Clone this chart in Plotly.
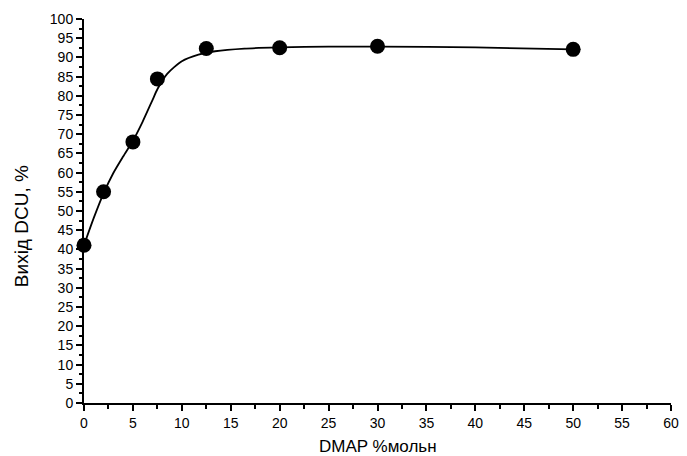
import plotly.graph_objects as go

# Measured points
dmap = [0, 2, 5, 7.5, 12.5, 20, 30, 50]
yield_dcu = [41.1, 55.0, 68.0, 84.4, 92.3, 92.5, 92.9, 92.1]

# Fitted curve
curve_x = [0, 1, 2, 3, 4, 5, 6, 7, 7.5, 8.5, 10, 11.7, 13.4, 16.4, 20, 25, 30, 40, 50]
curve_y = [41.1, 48.2, 54.6, 59.9, 64.2, 68.3, 73.3, 78.9, 81.7, 85.7, 89.0, 90.7, 91.6, 92.3, 92.6, 92.8, 92.8, 92.6, 92.1]

x_title = "DMAP %мольн"
y_title = "Вихід DCU, %"

fig = go.Figure()
fig.add_trace(go.Scatter(x=curve_x, y=curve_y, mode="lines",
                         line=dict(color="black", width=1.8, shape="spline", smoothing=0.7),
                         hoverinfo="skip", showlegend=False))
fig.add_trace(go.Scatter(x=dmap, y=yield_dcu, mode="markers",
                         marker=dict(color="black", size=15, symbol="circle"),
                         showlegend=False, cliponaxis=False))

font = "Liberation Sans, Arial, sans-serif"
fig.update_layout(
    width=687, height=456,
    margin=dict(l=84, r=8, t=19, b=53),
    paper_bgcolor="white", plot_bgcolor="white",
    font=dict(family=font, size=14, color="black"),
    xaxis=dict(range=[0, 60], tickmode="linear", tick0=0, dtick=5,
               showgrid=False, zeroline=False, showline=True, linecolor="black", linewidth=2,
               ticks="outside", ticklen=6, tickwidth=2, tickcolor="black",
               minor=dict(ticks="outside", ticklen=4, tickwidth=2, dtick=2.5, tickcolor="black", showgrid=False),
               tickfont=dict(size=14)),
    yaxis=dict(range=[0, 100], tickmode="linear", tick0=0, dtick=5,
               showgrid=False, zeroline=False, showline=True, linecolor="black", linewidth=2,
               ticks="outside", ticklen=6, tickwidth=2, tickcolor="black",
               minor=dict(ticks="outside", ticklen=3, tickwidth=2, dtick=2.5, tickcolor="black", showgrid=False),
               tickfont=dict(size=14)),
    annotations=[
        dict(text=y_title, xref="paper", yref="paper", x=-0.106, y=0.46,
             xanchor="center", yanchor="middle", textangle=-90, showarrow=False,
             font=dict(size=19)),
        dict(text=x_title, xref="paper", yref="paper", x=0.5, y=-0.112,
             xanchor="center", yanchor="middle", showarrow=False,
             font=dict(size=17)),
    ],
)
fig.write_html("out.html")
